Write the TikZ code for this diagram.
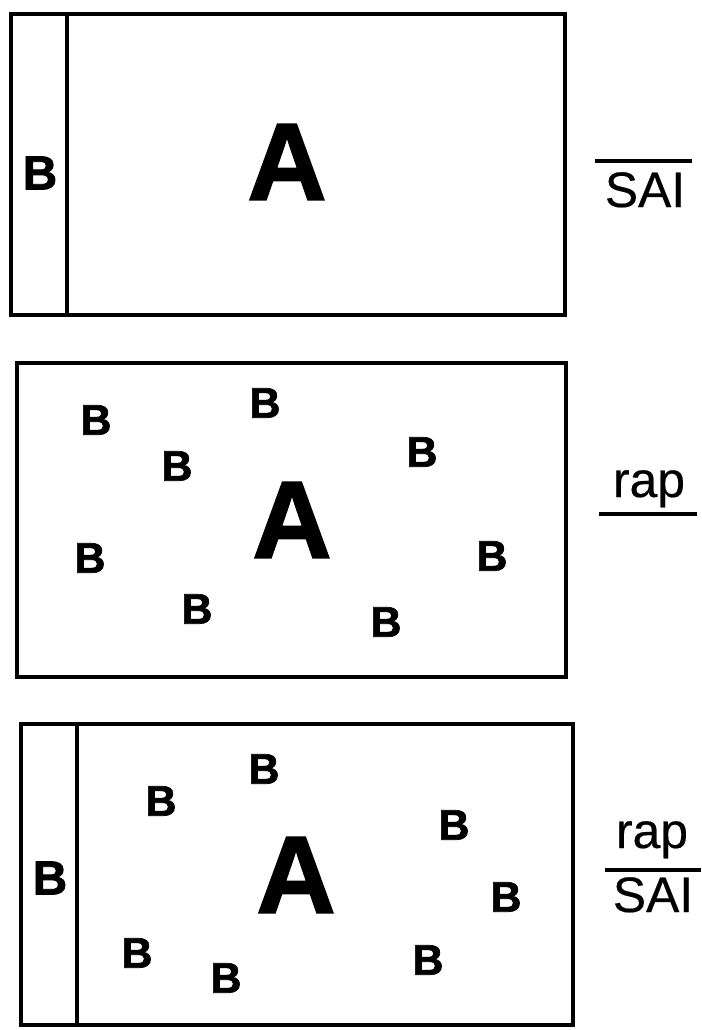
\documentclass[tikz,border=0pt]{standalone}
\usepackage{fontspec}
\setmainfont{Liberation Sans}
\newfontfamily\heavyfont[FakeBold=1.6]{Liberation Sans Bold}
\newfontfamily\lblfont[FakeBold=0.4]{Liberation Sans}
\begin{document}
\begin{tikzpicture}[x=1bp,y=-1bp,line width=3.2bp,
  bigA/.style={font=\fontsize{110}{110}\heavyfont,inner sep=0pt},
  smallB/.style={font=\fontsize{43}{43}\heavyfont,inner sep=0pt},
  stripB/.style={font=\fontsize{48}{48}\heavyfont,inner sep=0pt},
  lbl/.style={font=\fontsize{50}{50}\lblfont,inner sep=0pt,anchor=base},
  fracline/.style={line width=3.2bp}]
\useasboundingbox (0,0) rectangle (702,1030);
\fill[white] (0,0) rectangle (702,1030);
% Panel 1
\draw (11,14) rectangle (565,315);
\draw (67,14) -- (67,315);
\node[stripB] (p1b) at (40,173) {B};
\node[bigA] (p1a) at (287,162) {A};
\coordinate (p1l) at (595,161);
\coordinate (p1r) at (692,161);
\draw[fracline] (p1l) -- (p1r);
\node[lbl] (p1sai) at (645,207) {SAI};
% Panel 2
\draw (17,363) rectangle (566,677);
\node[bigA] (p2a) at (292,520) {A};
\node[smallB] (p2b1) at (96,420) {B};
\node[smallB] (p2b2) at (265,403) {B};
\node[smallB] (p2b3) at (177,466) {B};
\node[smallB] (p2b4) at (422,452) {B};
\node[smallB] (p2b5) at (90,558) {B};
\node[smallB] (p2b6) at (492,556) {B};
\node[smallB] (p2b7) at (197,609) {B};
\node[smallB] (p2b8) at (386,622) {B};
\node[lbl] (p2rap) at (649,497) {rap};
\coordinate (p2l) at (599,514);
\coordinate (p2r) at (697,514);
\draw[fracline] (p2l) -- (p2r);
% Panel 3
\draw (21,724) rectangle (573,1025);
\draw (77,724) -- (77,1025);
\node[stripB] (p3b) at (50,878) {B};
\node[bigA] (p3a) at (296,875) {A};
\node[smallB] (p3b1) at (264,769) {B};
\node[smallB] (p3b2) at (161,801) {B};
\node[smallB] (p3b3) at (454,825) {B};
\node[smallB] (p3b4) at (506,897) {B};
\node[smallB] (p3b5) at (137,953) {B};
\node[smallB] (p3b6) at (226,978) {B};
\node[smallB] (p3b7) at (428,960) {B};
\node[lbl] (p3rap) at (652,848) {rap};
\coordinate (p3l) at (605,870);
\coordinate (p3r) at (701,870);
\draw[fracline] (p3l) -- (p3r);
\node[lbl] (p3sai) at (653,912) {SAI};
\end{tikzpicture}
\end{document}
